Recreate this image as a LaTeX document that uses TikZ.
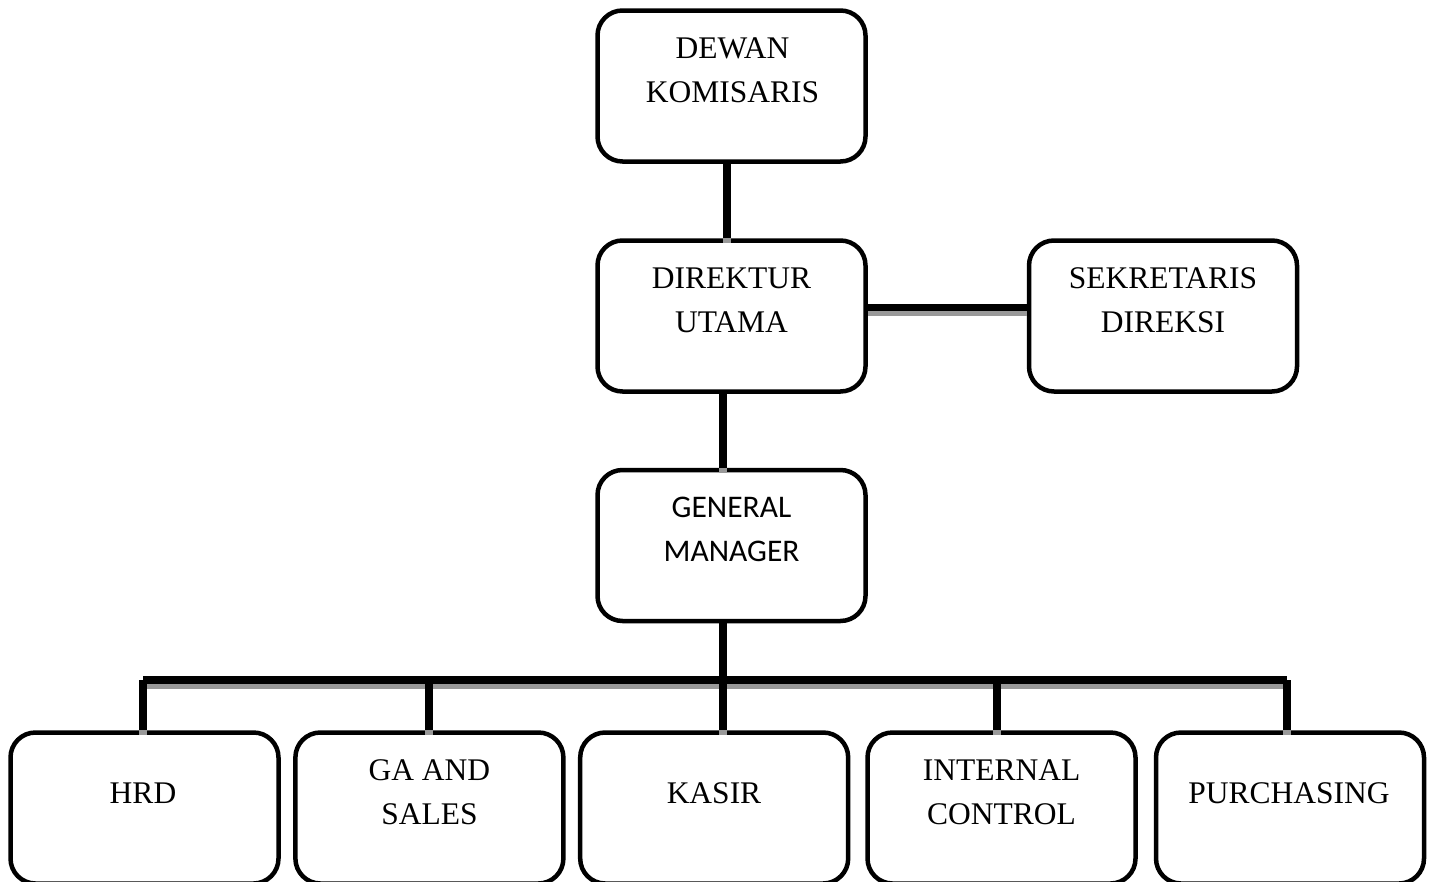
\documentclass[tikz,border=0pt]{standalone}
\usepackage{fontspec}
\setmainfont{Liberation Serif}
\newfontfamily\gmfont{Carlito}
\newcommand\orglinks[1]{%
  \draw[#1] (dk.south -| ca) -- (du.north -| ca);
  \draw[#1] (du.east |- cb) -- (sk.west |- cb);
  \draw[#1] (du.south -| cc) -- (gm.north -| cc);
  \draw[#1] (gm.south -| cc) -- (cc |- d1);
  \draw[#1] (d1) -- (d5);
  \draw[#1] (d1) -- (d1 |- hrd.north);
  \draw[#1] (d2) -- (d2 |- ga.north);
  \draw[#1] (d3) -- (d3 |- ks.north);
  \draw[#1] (d4) -- (d4 |- ic.north);
  \draw[#1] (d5) -- (d5 |- pc.north);
}
\begin{document}
\begin{tikzpicture}[x=1pt,y=-1pt,
  box/.style={draw=black, line width=4.5pt, rounded corners=25pt, fill=white,
    minimum width=268pt, minimum height=151pt, inner sep=0pt},
  txt/.style={anchor=base, inner sep=0pt, font=\fontsize{31.5}{44}\selectfont},
  gmtxt/.style={anchor=base, inner sep=0pt, font=\gmfont\fontsize{31.5}{44}\selectfont},
  conn/.style={line width=7.5pt, black, line cap=butt},
  shadowline/.style={line width=7.5pt, black!40, line cap=butt}]
\useasboundingbox (0,0) rectangle (1434,881);
\fill[white] (0,0) rectangle (1434,881);
\clip (0,0) rectangle (1434,881);
% helper coordinates
\coordinate (ca) at (727,0);
\coordinate (cb) at (0,307.5);
\coordinate (cc) at (723,0);
\coordinate (d1) at (143,680);
\coordinate (d2) at (429,680);
\coordinate (d3) at (723,680);
\coordinate (d4) at (997,680);
\coordinate (d5) at (1287,680);
% boxes
\node[box] (dk) at (731.5,86) {};
\node[box] (du) at (731.5,316) {};
\node[box] (sk) at (1163,316) {};
\node[box] (gm) at (731.5,545.5) {};
\node[box] (hrd) at (144.5,808) {};
\node[box] (ga) at (429.4,808) {};
\node[box] (ks) at (714.2,808) {};
\node[box] (ic) at (1001.5,808) {};
\node[box] (pc) at (1290,808) {};
% connectors: shadow then line
\begin{scope}[transform canvas={yshift=-5pt}]
  \orglinks{shadowline}
\end{scope}
\orglinks{conn}
% texts
\node[txt] (dkt1) at (732.5,58) {DEWAN};
\node[txt] (dkt2) at (732.5,102) {KOMISARIS};
\node[txt] (dut1) at (731.5,288) {DIREKTUR};
\node[txt] (dut2) at (731.5,332) {UTAMA};
\node[txt] (skt1) at (1163,288) {SEKRETARIS};
\node[txt] (skt2) at (1163,332) {DIREKSI};
\node[gmtxt] (gmt1) at (731.5,517.5) {GENERAL};
\node[gmtxt] (gmt2) at (731.5,561.5) {MANAGER};
\node[txt] (hrdt) at (143,803) {HRD};
\node[txt] (gat1) at (429.4,780) {GA AND};
\node[txt] (gat2) at (429.4,824) {SALES};
\node[txt] (kst) at (714,803) {KASIR};
\node[txt] (ict1) at (1001.5,780) {INTERNAL};
\node[txt] (ict2) at (1001.5,824) {CONTROL};
\node[txt] (pct) at (1289,803) {PURCHASING};
\end{tikzpicture}
\end{document}
